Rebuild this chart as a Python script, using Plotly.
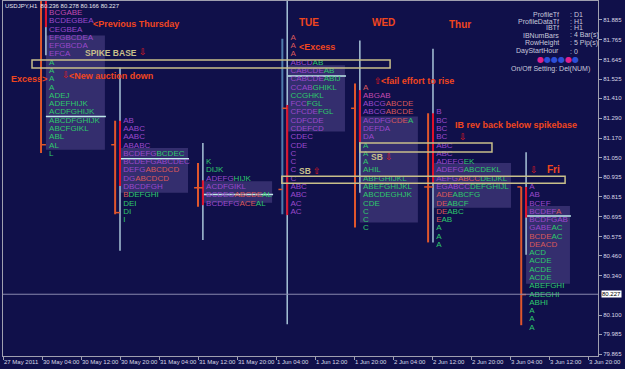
import plotly.graph_objects as go

# ---------------- data ----------------
# time axis: chart hours counted from 30 May 2011 00:00 (weekend bars skipped)
tick_hours = [-4, 4, 12, 20, 28, 36, 44, 52, 60, 68, 76, 84, 92, 100, 108, 116]
tick_labels = ["27 May 2011", "30 May 04:00", "30 May 12:00", "30 May 20:00",
               "31 May 04:00", "31 May 12:00", "31 May 20:00", "1 Jun 04:00",
               "1 Jun 12:00", "1 Jun 20:00", "2 Jun 04:00", "2 Jun 12:00",
               "2 Jun 20:00", "3 Jun 04:00", "3 Jun 12:00", "3 Jun 20:00"]
price_ticks = [81.885, 81.765, 81.645, 81.525, 81.410, 81.290, 81.170, 81.050, 80.935,
               80.815, 80.695, 80.575, 80.460, 80.340, 80.100, 79.985, 79.865]
symbol = "USDJPY,H1"
last_bar = [80.236, 80.278, 80.166, 80.227]   # O H L C

row_height = 0.05
profile_t = [4.8, 20.0, 37.0, 54.3, 69.2, 84.2, 103.3]
profile_top = [81.90, 81.25, 81.00, 81.75, 81.45, 81.30, 80.85]

p1_rows = ["BCGABE", "BCDEGBEA", "CEGBEA", "EFGBCDEA", "EFGBCDA", "EFCA", "A", "A", "A", "A",
           "ADEJ", "ADEFHIJK", "ACDFGHIJK", "ABCDFGHIJK", "ABCFGIKL", "ABL", "AL", "L"]
p2_rows = ["AB", "AABC", "AABC", "ABABC", "BCDEFGBCDEC", "BCDEFGABCDEC", "DEFGABCDCD",
           "DGABCDCD", "DBCDFGH", "BDEFGHI", "DEI", "DI", "I"]
p3_rows = ["K", "DIJK", "ADEFGHIJK", "ACDFGIKL", "BCDEGABCDEAL", "BCDEFGACEAL"]
p4_rows = ["A", "A", "A", "ABCDAB", "CABCDEAB", "CABCDEABIJ", "CCABGHIKL", "CCGHKL", "FCCFGL",
           "CFCDEFGL", "CDFCDE", "CDEFCD", "CDEC", "CDE", "C", "C", "C", "C", "ABC", "ABC", "AC", "AC"]
p5_rows = ["A", "ABGAB", "ABCGABCDE", "ABCGABCDE", "ACDFGCDEA", "DEFDA", "DA", "A", "A", "A",
           "AHIL", "ABFGHIJKL", "ABEFGHIJKL", "ABCDEGHJK", "CDE", "C", "C", "C"]
p6_rows = ["B", "BC", "BC", "BC", "ABC", "ABC", "ADEFGEK", "ADEFGABCDEKL", "AEFGABCCDEIJKL",
           "EGABCCDEFGHIJL", "ADEABCFG", "DEABCF", "DEABC", "EAB", "A", "A", "A"]
p7_rows = ["A", "AB", "BCEF", "BCDEFA", "BCDFGAB", "GABEAC", "BCDEAC", "DEACD", "ACD", "ACDE",
           "ACDE", "ACDE", "ABEFGHI", "ABEGHI", "ABHI", "A", "A", "A"]

range_hi = [82.00, 81.595, 81.14, 82.00, 81.76, 81.71, 81.085]
range_lo = [81.67, 80.49, 80.555, 80.045, 80.84, 80.54, 80.465]
ib_hi = [82.00, 81.275, 80.915, 81.37, 81.46, 81.32, 80.875]
ib_lo = [81.84, 80.88, 80.765, 80.705, 81.145, 80.90, 80.69]
outer_hi = [82.00, 81.275, 81.02, 81.77, 81.50, 81.32, 80.875]
outer_lo = [81.08, 80.71, 80.755, 80.71, 80.63, 80.54, 80.04]
day_open = [None, 81.13, 80.87, 80.86, 81.35, 80.875, 80.875]
day_close = [81.13, 80.72, 80.87, 81.35, None, 80.875, 80.225]

va_hi = [81.79, 81.11, 80.91, 81.61, 81.30, 81.02, 80.76]
va_lo = [81.10, 80.84, 80.78, 81.21, 80.66, 80.75, 80.29]
va_end_t = [16.9, 33.95, 51.2, 66.15, 81.1, 100.2, 112.3]
poc = [81.30, 81.045, 80.83, 81.545, None, None, 80.70]

zone_t0 = [1.95, 69.2, 53.2]
zone_t1 = [75.4, 96.3, 111.3]
zone_hi = [81.642, 81.140, 80.940]
zone_lo = [81.593, 81.086, 80.898]

settings_keys = ["ProfileTf", "ProfileDataTf", "IBTf", "IBNumBars", "RowHeight", "DayStartHour"]
settings_vals = [": D1", ": H1", ": H1", ": 4 Bar(s)", ": 5 Pip(s)", ": 0"]

# ---------------- styles ----------------
BG = "#10104a"
PAL = {"p": "#9a48cc", "g": "#2ec86c", "r": "#d8585a", "m": "#c04ab0"}
p_colors = [
    ["m", "p", "p", "p", "p", "p"] + ["g"] * 12,
    ["p", "p", "p", "p", "p6g", "p", "p4r", "p2r", "p", "r1g", "g", "g", "g"],
    ["g", "g", "p5g", "p", "p5r5g", "p6r3g"],
    ["r", "r", "r", "p4g", "p6g", "p6g", "p4g", "g", "p3g", "p5g"] + ["p"] * 12,
    ["r", "m", "p4r", "p4r", "p5r3g", "p", "p"] + ["g"] * 11,
    ["p"] * 6 + ["p5g", "p5g", "p4r4g", "p6g", "r3g", "r2g", "r2g", "r1g", "g", "g", "g"],
    ["p", "p", "p", "p5r", "p", "p4g", "r4g", "r"] + ["g"] * 10,
]
outer_col = ["#e0562c", "#e0562c", "#e0562c", "#4f7cac", "#e0562c", "#e0562c", "#e0562c"]
LIGHT = "#a8c4d8"
RED = "#e0102a"
ORANGE = "#e0562c"
KHAKI = "#c8bf8a"
ANN = "#f0461e"
TEXT_DX = 0.65
OUTER_DX = 1.0


def colored(row, code):
    runs, i = [], 0
    while i < len(code):
        c = code[i]
        i += 1
        n = ""
        while i < len(code) and code[i].isdigit():
            n += code[i]
            i += 1
        runs.append((c, int(n) if n else None))
    out, pos = [], 0
    for c, n in runs:
        seg = row[pos:] if n is None else row[pos:pos + n]
        pos = len(row) if n is None else pos + n
        if seg:
            out.append(f'<span style="color:{PAL[c]}">{seg}</span>')
    if pos < len(row):
        out.append(f'<span style="color:{PAL[runs[-1][0]]}">{row[pos:]}</span>')
    return "".join(out)


fig = go.Figure()

# value-area boxes and POC lines
for i, t in enumerate(profile_t):
    fig.add_shape(type="rect", x0=t, x1=va_end_t[i], y0=va_lo[i], y1=va_hi[i],
                  fillcolor="rgba(128,108,184,0.33)", line_width=0, layer="below")
    if poc[i] is not None:
        fig.add_shape(type="line", x0=t, x1=va_end_t[i] + 0.2, y0=poc[i], y1=poc[i],
                      line=dict(color="#bfeaea", width=1.5), layer="below")


def vlines(xs, his, los, color, width):
    X, Y = [], []
    for x, h, l in zip(xs, his, los):
        X += [x, x, None]
        Y += [h, l, None]
    fig.add_trace(go.Scatter(x=X, y=Y, mode="lines", line=dict(color=color, width=width),
                             hoverinfo="skip", showlegend=False))


for col in sorted(set(outer_col)):
    idx = [i for i, c in enumerate(outer_col) if c == col]
    vlines([profile_t[i] - OUTER_DX for i in idx], [outer_hi[i] for i in idx],
           [outer_lo[i] for i in idx], col, 2)
vlines(profile_t, range_hi, range_lo, LIGHT, 1.5)
vlines(profile_t, ib_hi, ib_lo, RED, 2)

# open / close ticks
TX, TY = [], []
for i, t in enumerate(profile_t):
    xo = t - OUTER_DX
    if day_open[i] is not None:
        TX += [xo - 0.8, xo, None]
        TY += [day_open[i], day_open[i], None]
    if day_close[i] is not None:
        TX += [xo, t, None]
        TY += [day_close[i], day_close[i], None]
fig.add_trace(go.Scatter(x=TX, y=TY, mode="lines", line=dict(color=ORANGE, width=1.5),
                         hoverinfo="skip", showlegend=False))

# TPO letters
all_rows = [p1_rows, p2_rows, p3_rows, p4_rows, p5_rows, p6_rows, p7_rows]
for i, rows in enumerate(all_rows):
    ys = [profile_top[i] - row_height * k + row_height / 2 for k in range(len(rows))]
    txt = [colored(r, c) for r, c in zip(rows, p_colors[i])]
    fig.add_trace(go.Scatter(x=[profile_t[i] + TEXT_DX] * len(rows), y=ys, mode="text",
                             text=txt, textposition="middle right",
                             textfont=dict(family="Liberation Sans", size=8, color=PAL["p"]),
                             hoverinfo="skip", showlegend=False))

# spike-base reference zones
for a, b, h, l in zip(zone_t0, zone_t1, zone_hi, zone_lo):
    fig.add_shape(type="rect", x0=a, x1=b, y0=l, y1=h, line=dict(color=KHAKI, width=1.5),
                  fillcolor="rgba(0,0,0,0)", layer="above")

# last price line
fig.add_hline(y=last_bar[3], line=dict(color="#8a8ab0", width=1))


# ---------------- annotations ----------------
def note(text, x, y, color=ANN, size=9, bold=True, family="Liberation Sans", anchor="left"):
    fig.add_annotation(x=x, y=y, xref="x", yref="y", text=f"<b>{text}</b>" if bold else text,
                       showarrow=False, xanchor=anchor, yanchor="middle",
                       font=dict(family=family, size=size, color=color))


ARW = "#e01a1a"
note("&lt;Previous Thursday", 14.0, 81.859)
note("SPIKE BASE", 12.5, 81.684, color=KHAKI, size=8.5)
note("⇩", 23.5, 81.690, color=ARW, size=9, bold=False, family="DejaVu Sans")
note("Excess&gt;", -2.8, 81.527)
note("⇩", 7.6, 81.551, color=ARW, size=9, bold=False, family="DejaVu Sans")
note("&lt;New auction down", 9.1, 81.545)
note("TUE", 56.3, 81.871, size=10)
note("&lt;Excess", 56.3, 81.720)
note("WED", 71.3, 81.871, size=10)
note("⇧", 71.6, 81.515, color=ARW, size=9, bold=False, family="DejaVu Sans")
note("&lt;fail effort to rise", 73.1, 81.515)
note("SB", 56.3, 80.971, color=KHAKI, size=8.5)
note("⇧", 59.2, 80.971, color=ARW, size=9, bold=False, family="DejaVu Sans")
note("SB", 71.1, 81.056, color=KHAKI, size=8.5)
note("⇩", 74.0, 81.056, color=ARW, size=9, bold=False, family="DejaVu Sans")
note("Thur", 87.1, 81.859, size=10)
note("IB rev back below spikebase", 88.3, 81.249)
note("⇩", 89.1, 81.177, color=ARW, size=9, bold=False, family="DejaVu Sans")
note("Fri", 107.2, 80.983, size=10)
note("⇩", 103.6, 80.977, color=ARW, size=9, bold=False, family="DejaVu Sans")

INFO = "#c8c8dc"
info_y = [81.919, 81.877, 81.835, 81.792, 81.744, 81.696]
for k, v, y in zip(settings_keys, settings_vals, info_y):
    note(k, 110.4, y, color=INFO, size=7, bold=False, anchor="right")
    note(v, 111.9, y, color=INFO, size=7, bold=False)
dots = "".join(f'<span style="color:{c}">●</span>' for c in
               ["#e0208c", "#2d4fd8", "#2d4fd8", "#2d4fd8", "#e0208c", "#2d4fd8"])
note(dots, 109.85, 81.642, size=8, bold=False, family="DejaVu Sans", anchor="center")
note("On/Off Setting: Del(NUM)", 116.8, 81.587, color=INFO, size=7, bold=False, anchor="right")

fig.add_annotation(xref="paper", yref="paper", x=0, y=1, xanchor="left", yanchor="top",
                   text=f"{symbol}  " + " ".join(f"{v:.3f}" for v in last_bar),
                   showarrow=False, font=dict(family="Liberation Sans", size=6, color="#e8e8f0"))
fig.add_annotation(xref="paper", yref="y", x=1, y=last_bar[3], xanchor="left", yanchor="middle",
                   xshift=3, text=f"{last_bar[3]:.3f}", showarrow=False, bgcolor="#ffffff",
                   borderpad=0, font=dict(family="Liberation Sans", size=6, color="#000000"))

fig.update_layout(
    width=625, height=369,
    margin=dict(l=3, r=27, t=1, b=13),
    paper_bgcolor=BG, plot_bgcolor=BG,
    showlegend=False,
    xaxis=dict(range=[-4, 118.05], tickvals=tick_hours, ticktext=tick_labels,
               ticks="outside", ticklen=3, tickcolor="#a0a0b0", tickangle=0,
               showgrid=False, zeroline=False, showline=True, mirror=True,
               linecolor="#a0a0b0", linewidth=1, automargin=False,
               ticklabelposition="outside right",
               tickfont=dict(family="Liberation Sans", size=6, color="#d8d8e8")),
    yaxis=dict(range=[79.854, 81.998], side="right", tickvals=price_ticks,
               ticktext=[f"{v:.3f}" for v in price_ticks],
               ticks="outside", ticklen=3, tickcolor="#a0a0b0",
               showgrid=False, zeroline=False, showline=True, mirror=True,
               linecolor="#a0a0b0", linewidth=1, automargin=False,
               tickfont=dict(family="Liberation Sans", size=6, color="#d8d8e8")),
)

fig.write_html("out.html")
